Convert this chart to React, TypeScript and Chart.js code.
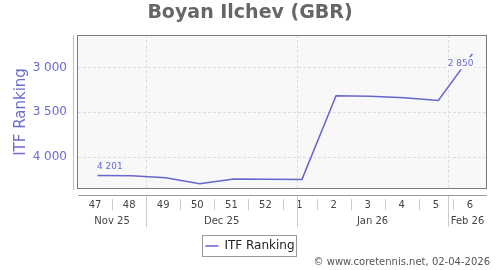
import { useEffect, useRef } from 'react';
import { Chart, registerables } from 'chart.js';

Chart.register(...registerables);

const TITLE = 'Boyan Ilchev (GBR)';
const SERIES_LABEL = 'ITF Ranking';
const Y_TITLE = 'ITF Ranking';
const CREDIT = '\u00a9 www.coretennis.net, 02-04-2026';

const AXIS_START = '2025-11-17';
const AXIS_END = '2026-02-09';
const weekLabels = ['47', '48', '49', '50', '51', '52', '1', '2', '3', '4', '5', '6'];
const monthLabels = ['Nov 25', 'Dec 25', 'Jan 26', 'Feb 26'];
const monthStarts = ['2025-11-01', '2025-12-01', '2026-01-01', '2026-02-01'];
const pointDates = [
  '2025-11-21', '2025-11-28', '2025-12-05', '2025-12-12', '2025-12-19', '2025-12-26',
  '2026-01-02', '2026-01-09', '2026-01-16', '2026-01-23', '2026-01-30', '2026-02-06',
];
const rankings = [4201, 4205, 4226, 4293, 4241, 4244, 4245, 3315, 3322, 3337, 3367, 2850];
const yTicks = [3000, 3500, 4000];
const Y_MIN = 2640;
const Y_MAX = 4352;

const LINE_COLOR = '#6666cc';
const AXIS_TEXT = '#6b6bd0';
const FONT = "'DejaVu Sans', Verdana, sans-serif";

const DAY = 86400000;
const t0 = new Date(AXIS_START + 'T00:00:00Z').getTime();
const dayOf = (s: string) => (new Date(s + 'T00:00:00Z').getTime() - t0) / DAY;
const AXIS_DAYS = dayOf(AXIS_END);

const fmt = (n: number) => String(Math.round(n)).replace(/\B(?=(\d{3})+(?!\d))/g, ' ');

const decor = {
  id: 'decor',
  beforeDraw(chart: any) {
    const { ctx, chartArea: a } = chart;
    ctx.save();
    ctx.fillStyle = '#f8f8f8';
    ctx.fillRect(a.left, a.top, a.right - a.left, a.bottom - a.top);
    ctx.restore();
  },
  beforeDatasetsDraw(chart: any) {
    const { ctx, chartArea: a } = chart;
    const xs = chart.scales.x;
    ctx.save();
    ctx.strokeStyle = '#dddddd';
    ctx.lineWidth = 1;
    ctx.setLineDash([3, 2]);
    monthStarts.forEach((m) => {
      const d = dayOf(m);
      if (d <= 0 || d >= AXIS_DAYS) return;
      const px = Math.round(xs.getPixelForValue(d)) + 0.5;
      ctx.beginPath();
      ctx.moveTo(px, a.top);
      ctx.lineTo(px, a.bottom);
      ctx.stroke();
    });
    ctx.restore();
  },
  afterDatasetsDraw(chart: any) {
    const { ctx } = chart;
    const pts = chart.getDatasetMeta(0).data;
    const first = pts[0];
    const last = pts[pts.length - 1];
    ctx.save();
    ctx.font = `9px ${FONT}`;
    ctx.fillStyle = AXIS_TEXT;
    ctx.textBaseline = 'middle';
    ctx.textAlign = 'left';
    ctx.fillText(fmt(rankings[0]), first.x - 0.5, first.y - 8.5);
    const t = fmt(rankings[rankings.length - 1]);
    const w = ctx.measureText(t).width;
    ctx.fillStyle = '#f8f8f8';
    ctx.fillRect(last.x + 1 - w - 1, last.y + 9.5 - 6, w + 2, 12);
    ctx.fillStyle = AXIS_TEXT;
    ctx.textAlign = 'right';
    ctx.fillText(t, last.x + 1, last.y + 9.5);
    ctx.restore();
  },
  afterDraw(chart: any) {
    const { ctx, chartArea: a } = chart;
    const xs = chart.scales.x;
    ctx.save();
    // plot frame
    ctx.strokeStyle = '#7a7a7a';
    ctx.lineWidth = 1;
    ctx.strokeRect(a.left - 0.5, a.top + 0.5, a.right - a.left, a.bottom - a.top - 1);
    // y axis line
    ctx.strokeStyle = '#b8b8e6';
    ctx.beginPath();
    ctx.moveTo(73.5, a.top);
    ctx.lineTo(73.5, a.bottom + 1);
    ctx.stroke();
    // x axis line
    const axY = a.bottom + 6.5;
    ctx.strokeStyle = '#9a9a9a';
    ctx.beginPath();
    ctx.moveTo(a.left, axY);
    ctx.lineTo(a.right, axY);
    ctx.stroke();
    // week separators
    ctx.strokeStyle = '#cccccc';
    for (let k = 1; k < weekLabels.length; k++) {
      const px = Math.round(xs.getPixelForValue(k * 7)) + 0.5;
      ctx.beginPath();
      ctx.moveTo(px, a.bottom + 10);
      ctx.lineTo(px, a.bottom + 21);
      ctx.stroke();
    }
    // month separators + labels
    ctx.font = `10px ${FONT}`;
    ctx.fillStyle = '#444';
    ctx.textAlign = 'center';
    ctx.textBaseline = 'middle';
    monthStarts.forEach((m, i) => {
      const d0 = Math.max(0, dayOf(m));
      const d1 = i + 1 < monthStarts.length ? Math.min(AXIS_DAYS, dayOf(monthStarts[i + 1])) : AXIS_DAYS;
      if (d0 > 0 && d0 < AXIS_DAYS) {
        const px = Math.round(xs.getPixelForValue(d0)) + 0.5;
        ctx.beginPath();
        ctx.moveTo(px, a.bottom + 7);
        ctx.lineTo(px, a.bottom + 38);
        ctx.stroke();
      }
      const cx = (xs.getPixelForValue(d0) + xs.getPixelForValue(d1)) / 2;
      ctx.fillText(monthLabels[i], cx, a.bottom + 32);
    });
    // legend frame
    const hb = chart.legend && chart.legend.legendHitBoxes && chart.legend.legendHitBoxes[0];
    if (hb) {
      ctx.strokeStyle = '#999999';
      ctx.strokeRect(Math.round(hb.left - 3) + 0.5, Math.round(hb.top - 5) + 0.5, Math.round(hb.width + 5), hb.height + 9);
    }
    // credit
    ctx.font = `10px ${FONT}`;
    ctx.fillStyle = '#555';
    ctx.textAlign = 'right';
    ctx.fillText(CREDIT, 490, 262);
    ctx.restore();
  },
};

export default function App() {
  const ref = useRef<HTMLCanvasElement | null>(null);
  useEffect(() => {
    document.body.style.margin = '0';
    Chart.defaults.font.family = FONT;
    const canvas = ref.current;
    if (!canvas) return;
    const chart = new Chart(canvas, {
      type: 'line',
      data: {
        datasets: [
          {
            label: SERIES_LABEL,
            data: pointDates.map((d, i) => ({ x: dayOf(d), y: rankings[i] })),
            borderColor: LINE_COLOR,
            backgroundColor: LINE_COLOR,
            borderWidth: 1.5,
            pointRadius: 0,
            pointHoverRadius: 0,
            fill: false,
            tension: 0,
          },
        ],
      },
      options: {
        responsive: false,
        animation: false,
        devicePixelRatio: 1,
        events: [],
        layout: { padding: { left: 13, right: 13, top: 0, bottom: 8 } },
        scales: {
          x: {
            type: 'linear',
            min: 0,
            max: AXIS_DAYS,
            afterBuildTicks: (s: any) => {
              s.ticks = weekLabels.map((_, i) => ({ value: i * 7 + 3.5 }));
            },
            afterFit: (s: any) => {
              s.height = 41;
            },
            grid: { display: false, drawTicks: false },
            border: { display: false },
            ticks: {
              padding: 10,
              color: '#444',
              font: { size: 10 },
              maxRotation: 0,
              autoSkip: false,
              callback: (_v: any, i: number) => weekLabels[i],
            },
          },
          y: {
            type: 'linear',
            reverse: true,
            min: Y_MIN,
            max: Y_MAX,
            afterBuildTicks: (s: any) => {
              s.ticks = yTicks.map((v) => ({ value: v }));
            },
            afterFit: (s: any) => {
              s.width = 65;
            },
            grid: { color: '#dddddd', drawTicks: false, lineWidth: 1 },
            border: { display: false, dash: [3, 2] },
            ticks: {
              padding: 11,
              color: AXIS_TEXT,
              font: { size: 12 },
              callback: (v: any) => fmt(Number(v)),
            },
            title: {
              display: true,
              text: Y_TITLE,
              color: AXIS_TEXT,
              font: { size: 15 },
              padding: { top: -1, bottom: 0 },
            },
          },
        },
        plugins: {
          title: {
            display: true,
            text: TITLE,
            color: '#666666',
            font: { size: 19, weight: 'bold' },
            padding: { top: 2, bottom: 10.2 },
          },
          legend: {
            position: 'bottom',
            labels: {
              usePointStyle: true,
              pointStyle: 'line',
              pointStyleWidth: 13,
              padding: 10,
              color: '#222',
              font: { size: 12 },
            },
          },
          tooltip: { enabled: false },
        },
      },
      plugins: [decor],
    } as any);
    return () => chart.destroy();
  }, []);
  return (
    <div style={{ width: 500, height: 270 }}>
      <canvas ref={ref} width={500} height={270} style={{ display: 'block' }} />
    </div>
  );
}
